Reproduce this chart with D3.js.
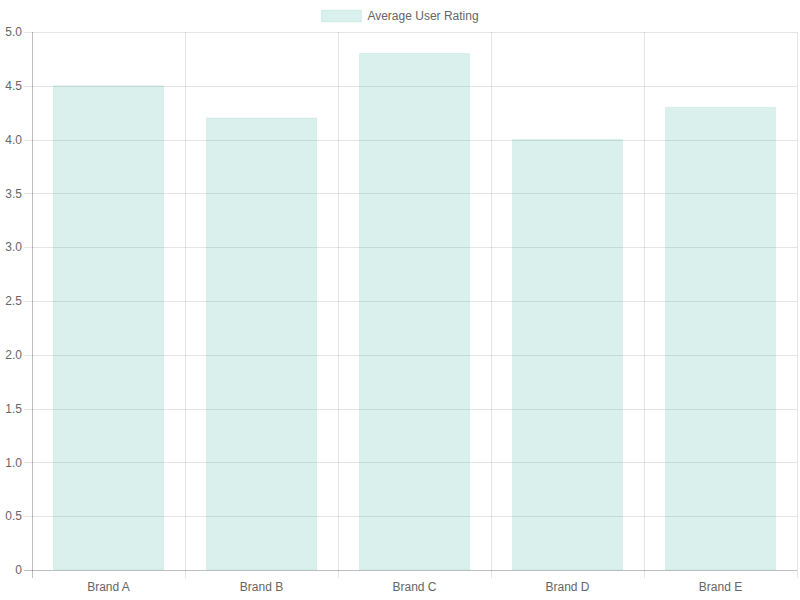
<!DOCTYPE html>
<html>
<head>
<meta charset="utf-8">
<script src="https://cdn.jsdelivr.net/npm/d3@7"></script>
<style>
  body { margin: 0; background: #fff; }
  svg text { font-family: "Liberation Sans", Arial, Helvetica, sans-serif; font-size: 12px; fill: #666; }
</style>
</head>
<body>
<svg id="chart" width="800" height="600"></svg>
<script>
const brands = ['Brand A', 'Brand B', 'Brand C', 'Brand D', 'Brand E'];
const ratings = [4.5, 4.2, 4.8, 4.0, 4.3];
const yTicks = [0, 0.5, 1.0, 1.5, 2.0, 2.5, 3.0, 3.5, 4.0, 4.5, 5.0];
const seriesName = 'Average User Rating';

const margin = { top: 32, right: 3, bottom: 30, left: 32 };
const width = 800, height = 600;
const fill = 'rgba(70,180,160,0.2)';
const edge = 'rgba(70,180,160,0.12)';
const grid = 'rgba(0,0,0,0.1)';

const svg = d3.select('#chart');

const x = d3.scaleBand()
  .domain(brands)
  .range([margin.left, width - margin.right]);

const y = d3.scaleLinear()
  .domain([0, 5])
  .range([height - margin.bottom, margin.top]);

// horizontal grid lines
svg.append('g')
  .selectAll('line')
  .data(yTicks)
  .enter()
  .append('line')
  .attr('x1', margin.left - 8)
  .attr('x2', width - margin.right)
  .attr('y1', d => Math.round(y(d)) + 0.5)
  .attr('y2', d => Math.round(y(d)) + 0.5)
  .attr('stroke', d => d === 0 ? 'rgba(0,0,0,0.25)' : grid);

// vertical grid lines at category edges
const edges = brands.map(b => x(b)).concat([x.range()[1]]);
svg.append('g')
  .selectAll('line')
  .data(edges)
  .enter()
  .append('line')
  .attr('x1', d => Math.round(d) + 0.5)
  .attr('x2', d => Math.round(d) + 0.5)
  .attr('y1', margin.top)
  .attr('y2', height - margin.bottom + 8)
  .attr('stroke', (d, i) => i === 0 ? 'rgba(0,0,0,0.25)' : grid);

// y labels
svg.append('g')
  .selectAll('text')
  .data(yTicks)
  .enter()
  .append('text')
  .attr('x', margin.left - 10)
  .attr('y', d => y(d))
  .attr('dy', '0.35em')
  .attr('text-anchor', 'end')
  .text(d => d === 0 ? '0' : d.toFixed(1));

// x labels
svg.append('g')
  .selectAll('text')
  .data(brands)
  .enter()
  .append('text')
  .attr('x', d => x(d) + x.bandwidth() / 2)
  .attr('y', height - margin.bottom + 17)
  .attr('dy', '0.35em')
  .attr('text-anchor', 'middle')
  .text(d => d);

// bars (category 0.8, bar 0.9 like chart.js)
const barW = x.bandwidth() * 0.72;
svg.append('g')
  .selectAll('rect')
  .data(ratings)
  .enter()
  .append('rect')
  .attr('x', (d, i) => x(brands[i]) + (x.bandwidth() - barW) / 2)
  .attr('width', barW)
  .attr('y', d => y(d))
  .attr('height', d => y(0) - y(d))
  .attr('fill', fill)
  .attr('stroke', edge)
  .attr('stroke-width', 1);

// legend
const legend = svg.append('g');
const legendText = legend.append('text')
  .attr('y', 16)
  .attr('dy', '0.35em')
  .text(seriesName);
const tw = legendText.node().getComputedTextLength();
const total = 40 + 6 + tw;
const lx = width / 2 - total / 2;
legend.insert('rect', 'text')
  .attr('x', lx)
  .attr('y', 10)
  .attr('width', 40)
  .attr('height', 12)
  .attr('fill', fill)
  .attr('stroke', edge);
legendText.attr('x', lx + 46);
</script>
</body>
</html>
